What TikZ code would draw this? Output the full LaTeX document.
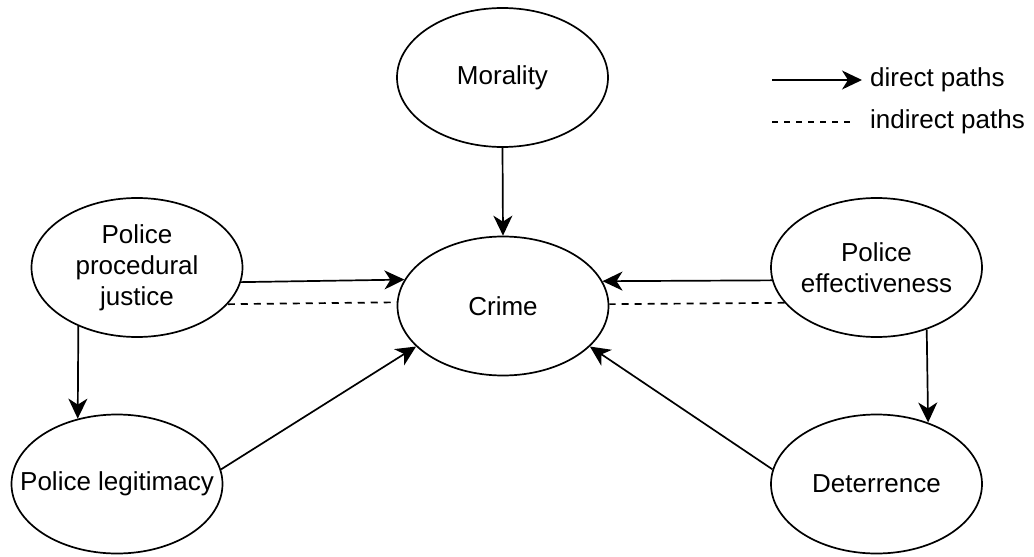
\documentclass[tikz,border=0pt]{standalone}
\usepackage{fontspec}
\setmainfont{Liberation Sans}
\usetikzlibrary{shapes.geometric,arrows.meta}
\begin{document}
\begin{tikzpicture}[x=1pt,y=-1pt,
  ell/.style={draw=black, line width=1.7pt, ellipse, minimum width=211pt, minimum height=139pt, inner sep=0pt},
  lab/.style={font=\fontsize{26}{31}\selectfont, align=center, inner sep=0pt},
  legtext/.style={font=\fontsize{26}{31}\selectfont, anchor=west, inner sep=0pt},
  direct/.style={line width=1.7pt, -{Stealth[length=20pt,width=19pt,inset=6pt]}},
  indirect/.style={line width=1.7pt, dash pattern=on 7pt off 6pt},
]
\useasboundingbox (0,0) rectangle (1034,557);

% nodes
\node[ell, label={[lab]center:Morality}] (mor) at (502.5,77.5) {};
\node[ell, label={[lab]center:Crime}] (crime) at (503,306) {};
\node[ell, label={[lab]center:Police\\procedural\\justice}] (ppj) at (137,267.5) {};
\node[ell, label={[lab]center:Police legitimacy}] (pl) at (117,484) {};
\node[ell, label={[lab]center:Police\\effectiveness}] (pe) at (876.5,267.5) {};
\node[ell, label={[lab]center:Deterrence}] (det) at (876.5,484) {};

% direct paths
\draw[direct] (mor.south) -- (crime.north);
\draw[direct] (ppj.352.5) -- (crime.165.7);
\draw[direct] (pe.187.5) -- (crime.14.3);
\draw[direct] (ppj.225) -- (pl.121);
\draw[direct] (pe.309.6) -- (det.50.2);
\draw[direct] (pl.8.3) -- (crime.205);
\draw[direct] (det.172.4) -- (crime.335);

% indirect paths
\draw[indirect] (ppj.338.5) -- (crime.178.4);
\draw[indirect] (pe.201.5) -- (crime.1.6);

% legend
\node[legtext] (lgdirect) at (870,80) {direct paths};
\node[legtext] (lgindirect) at (870,122) {indirect paths};
\coordinate (lgs1) at (772,80);
\coordinate (lgs2) at (772,122);
\draw[direct, shorten >=8pt] (lgs1) -- (lgdirect.west);
\draw[indirect, dash pattern=on 6pt off 6pt, shorten >=15pt] (lgs2) -- (lgindirect.west);
\end{tikzpicture}
\end{document}
